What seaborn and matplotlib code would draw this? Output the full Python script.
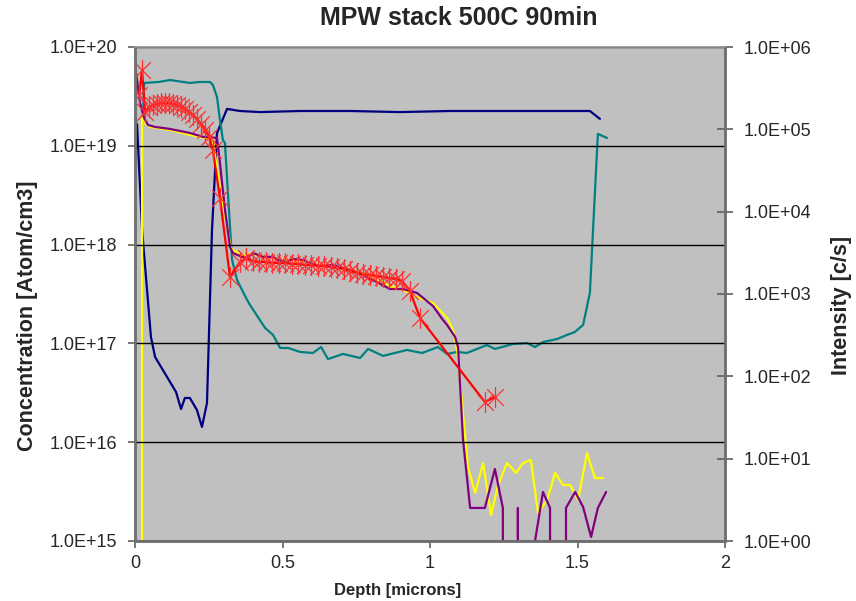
import numpy as np
import pandas as pd
import matplotlib
matplotlib.use("Agg")
import matplotlib.pyplot as plt
from matplotlib.path import Path
import seaborn as sns

# ---------------- data ----------------
# Red: concentration [Atom/cm3] on the left axis
red_depth = [0.014, 0.024, 0.034, 0.047, 0.061, 0.075, 0.088, 0.102, 0.115, 0.129,
             0.142, 0.156, 0.169, 0.183, 0.197, 0.210, 0.224, 0.237, 0.251, 0.264,
             0.288, 0.322, 0.356, 0.376, 0.400, 0.420, 0.444, 0.464, 0.488, 0.508,
             0.532, 0.553, 0.576, 0.597, 0.620, 0.641, 0.664, 0.685, 0.708, 0.729,
             0.753, 0.773, 0.797, 0.817, 0.841, 0.861, 0.885, 0.905, 0.932, 0.966,
             1.186, 1.220]
red_conc = [3.27e19, 5.85e19, 2.20e19, 2.48e19, 2.59e19, 2.65e19, 2.71e19, 2.71e19, 2.71e19, 2.65e19,
            2.59e19, 2.47e19, 2.36e19, 2.20e19, 2.05e19, 1.87e19, 1.66e19, 1.45e19, 1.23e19, 9.06e18,
            2.96e18, 4.70e17, 6.67e17, 7.31e17, 6.82e17, 6.67e17, 6.67e17, 6.52e17, 6.52e17, 6.52e17,
            6.37e17, 6.37e17, 6.22e17, 6.22e17, 6.07e17, 6.07e17, 5.93e17, 5.80e17, 5.66e17, 5.41e17,
            5.16e17, 5.04e17, 4.92e17, 4.81e17, 4.70e17, 4.59e17, 4.49e17, 4.28e17, 3.39e17, 1.81e17,
            2.55e16, 2.87e16]

# Navy: intensity [c/s] on the right axis
navy_depth = [0.000, 0.007, 0.024, 0.054, 0.068, 0.139, 0.156, 0.169, 0.186, 0.210,
              0.227, 0.244, 0.261, 0.278, 0.312, 0.356, 0.424, 0.559, 0.729, 0.898,
              1.068, 1.237, 1.407, 1.542, 1.576]
navy_int = [1.30e5, 1.13e5, 6.0e3, 301, 172, 64.6, 40.1, 54.6, 54.6, 39.0,
            24.3, 47.4, 6.0e3, 9.0e4, 1.77e5, 1.67e5, 1.62e5, 1.67e5, 1.67e5, 1.62e5,
            1.67e5, 1.67e5, 1.67e5, 1.67e5, 1.34e5]

# Teal: intensity [c/s] on the right axis
teal_depth = [0.027, 0.031, 0.080, 0.119, 0.186, 0.220, 0.254, 0.264, 0.278, 0.288,
              0.298, 0.305, 0.315, 0.329, 0.346, 0.380, 0.390, 0.441, 0.468, 0.492,
              0.519, 0.559, 0.603, 0.631, 0.654, 0.705, 0.763, 0.790, 0.841, 0.922,
              0.973, 1.027, 1.058, 1.092, 1.125, 1.193, 1.220, 1.281, 1.329, 1.356,
              1.383, 1.431, 1.464, 1.491, 1.519, 1.542, 1.569, 1.600]
teal_int = [1.30e5, 3.66e5, 3.76e5, 3.97e5, 3.66e5, 3.76e5, 3.76e5, 3.46e5, 2.47e5, 1.30e5,
            7.4e4, 6.8e4, 1.69e4, 2.6e3, 1.48e3, 846, 735, 387, 318, 221,
            221, 198, 192, 227, 162, 187, 167, 215, 177, 209,
            192, 227, 187, 198, 192, 240, 215, 247, 254, 227,
            261, 284, 318, 346, 421, 1.03e3, 8.8e4, 7.85e4]

# Yellow: intensity [c/s] on the right axis
yellow_depth = [0.007, 0.024, 0.037, 0.051, 0.119, 0.186, 0.220, 0.264, 0.281, 0.305,
                0.325, 0.332, 0.363, 0.400, 0.434, 0.468, 0.515, 0.569, 0.627, 0.671,
                0.753, 0.820, 0.864, 0.908, 0.956, 1.010, 1.058, 1.078, 1.092, 1.129,
                1.153, 1.180, 1.207, 1.231, 1.261, 1.292, 1.315, 1.342, 1.366, 1.397,
                1.424, 1.451, 1.475, 1.502, 1.532, 1.559, 1.586]
yellow_int = [0, 1.49e5, 1.16e5, 1.07e5, 9.82e4, 8.55e4, 8.09e4, 7.43e4, 2.79e4, 9.11e3,
              3.62e3, 3.43e3, 2.98e3, 3.07e3, 2.82e3, 2.74e3, 2.52e3, 2.52e3, 2.25e3, 2.19e3,
              1.90e3, 1.52e3, 1.25e3, 1.12e3, 920, 778, 511, 365, 209, 7.92,
              3.83, 8.86, 2.07, 4.79, 8.86, 6.70, 8.86, 9.64, 2.19, 3.15,
              6.70, 4.79, 4.79, 3.15, 11.7, 5.82, 5.82]

# Purple: intensity [c/s] on the right axis
purple_depth = [0.000, 0.017, 0.031, 0.044, 0.068, 0.119, 0.186, 0.231, 0.278, 0.288,
                0.305, 0.322, 0.332, 0.363, 0.380, 0.400, 0.434, 0.468, 0.485, 0.515,
                0.536, 0.569, 0.593, 0.627, 0.671, 0.753, 0.797, 0.820, 0.864, 0.908,
                0.956, 1.010, 1.044, 1.058, 1.085, 1.095, 1.112, 1.136, 1.161, 1.186,
                1.220, 1.247, 1.271, 1.298, 1.325, 1.356, 1.383, 1.407, 1.434, 1.461,
                1.492, 1.519, 1.546, 1.569, 1.597]
purple_int = [6.05e5, 2.09e5, 1.37e5, 1.13e5, 1.07e5, 1.01e5, 9.03e4, 8.09e4, 7.86e4, 3.90e4,
              1.05e4, 3.72e3, 3.15e3, 2.82e3, 2.74e3, 3.15e3, 2.82e3, 2.82e3, 2.59e3, 2.45e3,
              2.66e3, 2.59e3, 2.38e3, 2.19e3, 2.25e3, 1.85e3, 1.52e3, 1.40e3, 1.15e3, 1.15e3,
              1.03e3, 715, 483, 421, 301, 227, 16.9, 2.52, 2.52, 2.52,
              7.49, 2.52, 0, 2.52, 0, 1.0, 3.94, 2.52, 0, 2.52,
              3.94, 2.59, 1.12, 2.52, 3.94]

left_ticks = [1e15, 1e16, 1e17, 1e18, 1e19, 1e20]
right_ticks = [1e0, 1e1, 1e2, 1e3, 1e4, 1e5, 1e6]
x_ticks = [0, 0.5, 1, 1.5, 2]
x_tick_labels = ["0", "0.5", "1", "1.5", "2"]

title = "MPW stack 500C 90min"
xlabel = "Depth [microns]"
ylabel_left = "Concentration [Atom/cm3]"
ylabel_right = "Intensity [c/s]"

# ---------------- figure ----------------
sns.set_theme(style="white")
plt.rcParams["font.family"] = ["Liberation Sans", "DejaVu Sans"]

W, H = 856, 601
fig = plt.figure(figsize=(W / 100, H / 100), dpi=100)
ax = fig.add_axes([135 / W, 1 - 541 / H, 590 / W, 494 / H])
ax2 = ax.twinx()

lw = 1.6
series = [
    (navy_depth, navy_int, "#000080"),
    (teal_depth, teal_int, "#008080"),
    (yellow_depth, yellow_int, "#FFFF00"),
    (purple_depth, purple_int, "#800080"),
]
for d, v, c in series:
    df = pd.DataFrame({"depth": d, "val": v})
    sns.lineplot(data=df, x="depth", y="val", ax=ax2, color=c, lw=lw,
                 estimator=None, sort=False)

star = Path([(-0.8, -0.8), (0.8, 0.8), (-0.8, 0.8), (0.8, -0.8), (0, -1), (0, 1)],
            [Path.MOVETO, Path.LINETO] * 3)
dfr = pd.DataFrame({"depth": red_depth, "conc": red_conc})
sns.lineplot(data=dfr, x="depth", y="conc", ax=ax, color="#FF0000", lw=lw,
             estimator=None, sort=False, marker=star, markersize=15,
             markeredgecolor="#FF3030", markerfacecolor="none", markeredgewidth=0.9)

ax.set_yscale("log")
ax2.set_yscale("log")
ax.set_xlim(0, 2)
ax.set_ylim(1e15, 1e20)
ax2.set_ylim(1, 1e6)

# layering: left axis on top, grey background from the right axis
ax.set_zorder(ax2.get_zorder() + 1)
ax.patch.set_visible(False)
ax2.patch.set_visible(True)
ax2.patch.set_facecolor("#C0C0C0")

fmt = lambda v, pos: "{:.1E}".format(v)
ax.yaxis.set_major_locator(matplotlib.ticker.FixedLocator(left_ticks))
ax.yaxis.set_major_formatter(matplotlib.ticker.FuncFormatter(fmt))
ax.yaxis.set_minor_locator(matplotlib.ticker.NullLocator())
ax2.yaxis.set_major_locator(matplotlib.ticker.FixedLocator(right_ticks))
ax2.yaxis.set_major_formatter(matplotlib.ticker.FuncFormatter(fmt))
ax2.yaxis.set_minor_locator(matplotlib.ticker.NullLocator())
ax.set_xticks(x_ticks)
ax.set_xticklabels(x_tick_labels)

ax.grid(False)
ax2.grid(False)
ax.yaxis.grid(True, color="black", lw=1.0)

ax.set_xlabel("")
ax.set_ylabel("")
ax2.set_ylabel("")

tick_fs = 13
ax.tick_params(axis="y", which="major", direction="out", length=5, width=1.2,
               color="#606060", labelsize=tick_fs, pad=8, left=True)
ax.tick_params(axis="x", which="major", direction="out", length=5, width=1.2,
               color="#606060", labelsize=tick_fs, pad=5, bottom=True)
ax2.tick_params(axis="y", which="major", direction="inout", length=11, width=1.2,
                color="#606060", labelsize=tick_fs, pad=8, right=True)

for a in (ax, ax2):
    for s in ("left", "right", "bottom"):
        a.spines[s].set_color("#707070")
        a.spines[s].set_linewidth(1.8)
    a.spines["top"].set_color("#A0A0A0")
    a.spines["top"].set_linewidth(1.2)

fig.text(459 / W, 1 - 18 / H, title, fontsize=18, fontweight="bold",
         ha="center", va="center")
fig.text(398 / W, 1 - 590 / H, xlabel, fontsize=12, fontweight="bold",
         ha="center", va="center")
fig.text(28 / W, 1 - 316 / H, ylabel_left, fontsize=15.5, fontweight="bold",
         ha="center", va="center", rotation=90)
fig.text(842 / W, 1 - 305 / H, ylabel_right, fontsize=15.5, fontweight="bold",
         ha="center", va="center", rotation=90)

fig.savefig("out.png", dpi=100, facecolor="white")
